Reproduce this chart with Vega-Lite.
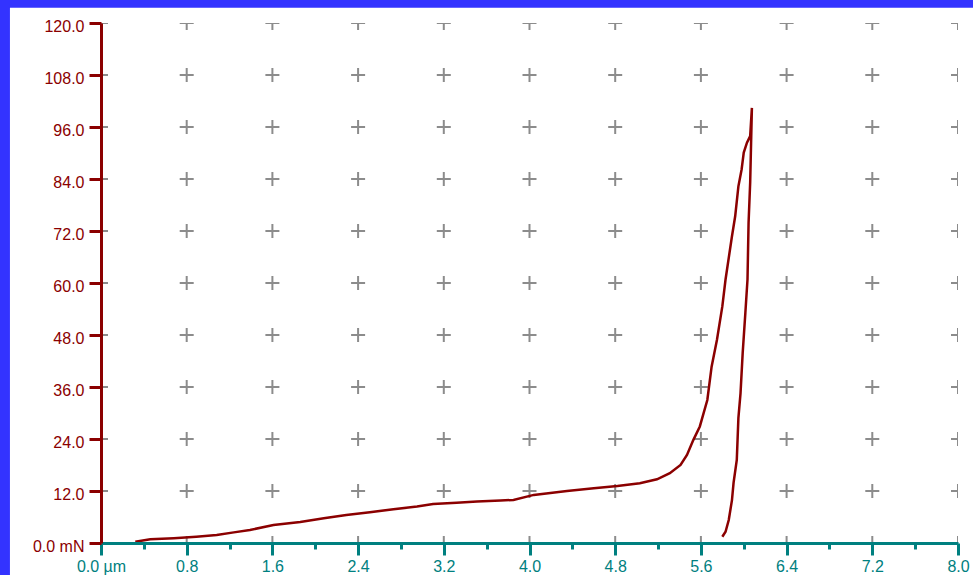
{
  "$schema": "https://vega.github.io/schema/vega-lite/v6.json",
  "width": 857,
  "height": 520,
  "autosize": {"type": "none"},
  "padding": {"left": 101, "top": 23, "right": 15, "bottom": 32},
  "background": "#3333ff",
  "config": {"view": {"stroke": null}},
  "datasets": {
    "curve": [
      {"i": 1, "d": 0.32, "f": 0.3},
      {"i": 2, "d": 0.46, "f": 0.85},
      {"i": 3, "d": 0.68, "f": 1.1},
      {"i": 4, "d": 0.89, "f": 1.45},
      {"i": 5, "d": 1.08, "f": 1.85},
      {"i": 6, "d": 1.24, "f": 2.45},
      {"i": 7, "d": 1.39, "f": 3.0},
      {"i": 8, "d": 1.61, "f": 4.15},
      {"i": 9, "d": 1.86, "f": 4.85},
      {"i": 10, "d": 2.08, "f": 5.7},
      {"i": 11, "d": 2.29, "f": 6.45},
      {"i": 12, "d": 2.51, "f": 7.1},
      {"i": 13, "d": 2.73, "f": 7.8},
      {"i": 14, "d": 2.95, "f": 8.4},
      {"i": 15, "d": 3.10, "f": 9.0},
      {"i": 16, "d": 3.32, "f": 9.3},
      {"i": 17, "d": 3.51, "f": 9.55},
      {"i": 18, "d": 3.73, "f": 9.8},
      {"i": 19, "d": 3.85, "f": 9.95},
      {"i": 20, "d": 4.04, "f": 11.1},
      {"i": 21, "d": 4.35, "f": 12.0},
      {"i": 22, "d": 4.60, "f": 12.65},
      {"i": 23, "d": 4.82, "f": 13.15},
      {"i": 24, "d": 5.03, "f": 13.8},
      {"i": 25, "d": 5.19, "f": 14.7},
      {"i": 26, "d": 5.31, "f": 16.1},
      {"i": 27, "d": 5.41, "f": 18.0},
      {"i": 28, "d": 5.47, "f": 20.3},
      {"i": 29, "d": 5.53, "f": 23.8},
      {"i": 30, "d": 5.59, "f": 26.9},
      {"i": 31, "d": 5.66, "f": 33.0},
      {"i": 32, "d": 5.70, "f": 40.7},
      {"i": 33, "d": 5.75, "f": 46.9},
      {"i": 34, "d": 5.80, "f": 54.6},
      {"i": 35, "d": 5.83, "f": 60.8},
      {"i": 36, "d": 5.89, "f": 70.8},
      {"i": 37, "d": 5.92, "f": 75.4},
      {"i": 38, "d": 5.95, "f": 82.3},
      {"i": 39, "d": 5.98, "f": 86.2},
      {"i": 40, "d": 6.00, "f": 90.1},
      {"i": 41, "d": 6.03, "f": 92.4},
      {"i": 42, "d": 6.06, "f": 93.9},
      {"i": 43, "d": 6.076, "f": 100.4},
      {"i": 44, "d": 6.06, "f": 83.2},
      {"i": 45, "d": 6.045, "f": 73.9},
      {"i": 46, "d": 6.035, "f": 60.8},
      {"i": 47, "d": 6.015, "f": 53.1},
      {"i": 48, "d": 5.99, "f": 43.8},
      {"i": 49, "d": 5.97, "f": 34.6},
      {"i": 50, "d": 5.95, "f": 28.8},
      {"i": 51, "d": 5.935, "f": 19.2},
      {"i": 52, "d": 5.905, "f": 13.9},
      {"i": 53, "d": 5.89, "f": 9.9},
      {"i": 54, "d": 5.86, "f": 5.3},
      {"i": 55, "d": 5.83, "f": 2.6},
      {"i": 56, "d": 5.80, "f": 1.45}
    ],
    "grid": [
      {"gx": 0, "gy": [0, 12, 24, 36, 48, 60, 72, 84, 96, 108, 120]},
      {"gx": 0.8, "gy": [0, 12, 24, 36, 48, 60, 72, 84, 96, 108, 120]},
      {"gx": 1.6, "gy": [0, 12, 24, 36, 48, 60, 72, 84, 96, 108, 120]},
      {"gx": 2.4, "gy": [0, 12, 24, 36, 48, 60, 72, 84, 96, 108, 120]},
      {"gx": 3.2, "gy": [0, 12, 24, 36, 48, 60, 72, 84, 96, 108, 120]},
      {"gx": 4.0, "gy": [0, 12, 24, 36, 48, 60, 72, 84, 96, 108, 120]},
      {"gx": 4.8, "gy": [0, 12, 24, 36, 48, 60, 72, 84, 96, 108, 120]},
      {"gx": 5.6, "gy": [0, 12, 24, 36, 48, 60, 72, 84, 96, 108, 120]},
      {"gx": 6.4, "gy": [0, 12, 24, 36, 48, 60, 72, 84, 96, 108, 120]},
      {"gx": 7.2, "gy": [0, 12, 24, 36, 48, 60, 72, 84, 96, 108, 120]},
      {"gx": 8.0, "gy": [0, 12, 24, 36, 48, 60, 72, 84, 96, 108, 120]}
    ]
  },
  "layer": [
    {
      "data": {"values": [{}]},
      "mark": {"type": "rect", "fill": "white", "clip": false},
      "encoding": {
        "x": {
          "datum": -0.85, "type": "quantitative", "title": null,
          "scale": {"domain": [0, 8], "nice": false, "zero": false},
          "axis": {
            "title": null, "grid": false, "zindex": 1,
            "values": [0, 0.4, 0.8, 1.2, 1.6, 2.0, 2.4, 2.8, 3.2, 3.6, 4.0, 4.4, 4.8, 5.2, 5.6, 6.0, 6.4, 6.8, 7.2, 7.6, 8.0],
            "domainColor": "#008080", "domainWidth": 3,
            "tickColor": "#008080", "tickWidth": 3,
            "tickSize": {"condition": {"test": "round(datum.value * 10) % 8 === 0", "value": 12}, "value": 6},
            "labelColor": "#008080", "labelFont": "Liberation Sans", "labelFontSize": 16,
            "labelPadding": 3, "labelFlush": false, "labelOverlap": false,
            "labelExpr": "round(datum.value * 10) % 8 !== 0 ? '' : (datum.value === 0 ? '0.0 µm' : format(datum.value, '.1f'))"
          }
        },
        "x2": {"datum": 8.3},
        "y": {
          "datum": 123.5, "type": "quantitative", "title": null,
          "scale": {"domain": [0, 120], "nice": false, "zero": false},
          "axis": {
            "title": null, "grid": false, "zindex": 1,
            "values": [0, 6, 12, 18, 24, 30, 36, 42, 48, 54, 60, 66, 72, 78, 84, 90, 96, 102, 108, 114, 120],
            "domainColor": "#8b0000", "domainWidth": 3,
            "tickColor": "#8b0000", "tickWidth": 3,
            "tickSize": {"condition": {"test": "datum.value % 12 === 0", "value": 12}, "value": 7},
            "labelColor": "#8b0000", "labelFont": "Liberation Sans", "labelFontSize": 16,
            "labelPadding": 5, "labelOffset": 3, "labelFlush": false, "labelOverlap": false,
            "labelExpr": "datum.value % 12 !== 0 ? '' : (datum.value === 0 ? '0.0 mN' : format(datum.value, '.1f'))"
          }
        },
        "y2": {"datum": -8}
      }
    },
    {
      "data": {"name": "grid"},
      "transform": [{"flatten": ["gy"]}],
      "mark": {"type": "point", "shape": "M-1,0H1M0,-1V1", "filled": false, "stroke": "#8c8c8c", "strokeWidth": 2, "size": 196, "opacity": 1, "clip": true},
      "encoding": {
        "x": {"field": "gx", "type": "quantitative", "title": null},
        "y": {"field": "gy", "type": "quantitative", "title": null}
      }
    },
    {
      "data": {"name": "curve"},
      "mark": {"type": "line", "color": "#8b0000", "strokeWidth": 2.5},
      "encoding": {
        "order": {"field": "i", "type": "quantitative"},
        "x": {"field": "d", "type": "quantitative", "title": null},
        "y": {"field": "f", "type": "quantitative", "title": null}
      }
    }
  ]
}
